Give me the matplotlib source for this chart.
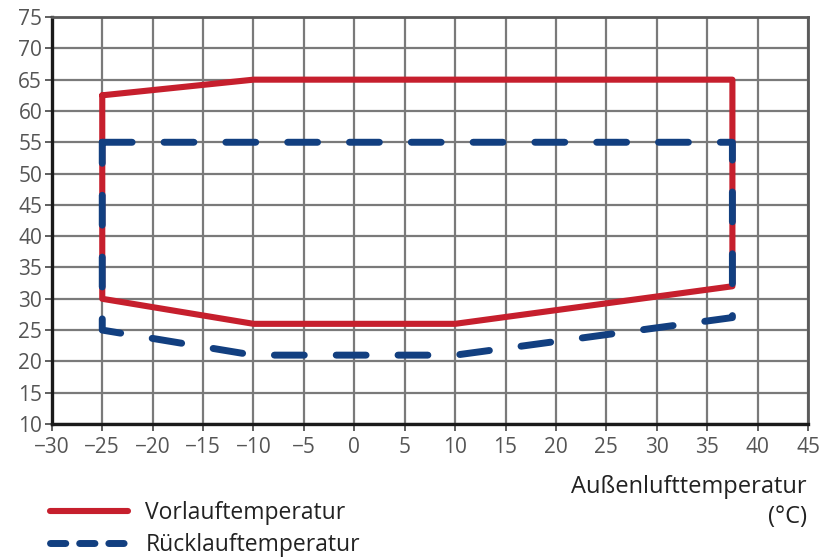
import matplotlib.pyplot as plt
from matplotlib.lines import Line2D

# Einsatzgrenzen (Außenluft vs. Vor-/Rücklauf)
vorlauf_x = [-25, -10, 37.5, 37.5, 10, -10, -25, -25]
vorlauf_y = [62.5, 65, 65, 32, 26, 26, 30, 62.5]
ruecklauf_x = [-25, 37.5, 37.5, 10, -10, -25, -25]
ruecklauf_y = [55, 55, 27, 21, 21, 25, 55]

x_ticks = list(range(-30, 50, 5))
y_ticks = list(range(10, 80, 5))

red = '#C61F2D'
blue = '#123F80'
tick_color = '#555555'

plt.rcParams['font.family'] = ['Open Sans', 'DejaVu Sans']

fig = plt.figure(figsize=(8.23, 5.59), dpi=100)
ax = fig.add_axes([0.063, 0.2415, 0.9188, 0.728])

ax.plot(vorlauf_x, vorlauf_y, color=red, lw=4.4, solid_joinstyle='round',
        solid_capstyle='round', zorder=3)
ax.plot(ruecklauf_x, ruecklauf_y, color=blue, lw=5.0, dashes=(4.3, 4.6),
        dash_capstyle='round', dash_joinstyle='round', zorder=4)

ax.set_xlim(-30, 45)
ax.set_ylim(10, 75)
ax.set_xticks(x_ticks)
ax.set_yticks(y_ticks)
ax.set_xticklabels([str(t).replace('-', '\u2212') for t in x_ticks])
ax.grid(True, color='#7a7a7a', lw=1.6)
ax.set_axisbelow(True)

for side in ['top', 'right']:
    ax.spines[side].set_color('#5a5a5a')
    ax.spines[side].set_linewidth(2.0)
for side in ['left', 'bottom']:
    ax.spines[side].set_color('#1a1a1a')
    ax.spines[side].set_linewidth(2.4)

ax.tick_params(axis='y', length=5, width=1.2, color='#444444', labelsize=15,
               labelcolor=tick_color, pad=2)
ax.tick_params(axis='x', length=5, width=1.2, color='#444444', labelsize=15,
               labelcolor=tick_color, pad=4)

fig.text(0.98, 0.102, 'Außenlufttemperatur\n(°C)', ha='right', va='center',
         fontsize=17, color='#222222', linespacing=1.3)

handles = [Line2D([], [], color=red, lw=4.4, solid_capstyle='round'),
           Line2D([], [], color=blue, lw=5.0, dashes=(2.2, 2.0), dash_capstyle='round')]
fig.legend(handles, ['Vorlauftemperatur', 'Rücklauftemperatur'],
           loc='lower left', bbox_to_anchor=(0.036, -0.034), frameon=False,
           handlelength=3.4, handletextpad=0.75, labelspacing=0.36,
           fontsize=16.5, labelcolor='#222222')

plt.savefig('out.png', dpi=100)
